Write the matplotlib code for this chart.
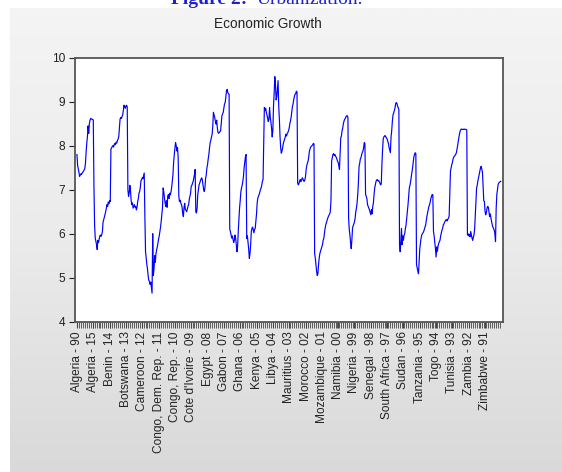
import numpy as np
import matplotlib.pyplot as plt
from matplotlib.colors import LinearSegmentedColormap

plt.rcParams['font.family'] = ['Liberation Sans', 'DejaVu Sans']

# log real GDP per capita, 1990-2015, one list per country
algeria = [7.80, 7.55, 7.48, 7.40, 7.30, 7.33, 7.36, 7.35, 7.38, 7.40, 7.42, 7.45, 7.48,
           7.60, 7.85, 8.05, 8.20, 8.45, 8.28, 8.50, 8.58, 8.62, 8.61, 8.60, 8.60, 8.58]
benin = [7.10, 6.20, 5.90, 5.82, 5.75, 5.64, 5.85, 5.80, 5.88, 5.95, 5.97, 5.94, 5.98,
         6.05, 6.27, 6.32, 6.38, 6.43, 6.50, 6.58, 6.66, 6.62, 6.72, 6.68, 6.75, 6.73]
botswana = [7.92, 7.95, 7.98, 8.00, 7.97, 8.02, 8.05, 8.03, 8.08, 8.06, 8.12, 8.15, 8.20,
            8.40, 8.60, 8.64, 8.62, 8.66, 8.70, 8.80, 8.92, 8.88, 8.85, 8.90, 8.92, 8.88]
cameroon = [7.00, 6.85, 6.92, 7.10, 6.98, 6.75, 6.66, 6.70, 6.58, 6.62, 6.66, 6.60, 6.62,
            6.54, 6.60, 6.73, 6.80, 6.92, 6.96, 7.05, 7.20, 7.23, 7.27, 7.25, 7.32, 7.38]
congo_dr = [6.40, 5.60, 5.45, 5.30, 5.20, 5.05, 4.94, 4.92, 4.85, 4.90, 4.78, 4.65, 6.00,
            5.05, 5.20, 5.50, 5.35, 5.55, 5.62, 5.70, 5.78, 5.88, 5.95, 6.05, 6.15, 6.28]
congo_rep = [6.45, 6.60, 7.04, 6.95, 6.81, 6.70, 6.62, 6.75, 6.60, 6.85, 6.89, 6.80, 6.92,
             6.88, 6.95, 7.05, 7.20, 7.34, 7.62, 7.80, 7.95, 8.07, 8.00, 7.88, 7.96, 7.73]
cote_divoire = [6.85, 6.73, 6.76, 6.70, 6.66, 6.60, 6.45, 6.39, 6.60, 6.69, 6.55, 6.53, 6.50,
                6.56, 6.62, 6.66, 6.78, 6.85, 6.92, 7.08, 7.10, 7.15, 7.19, 7.27, 7.35, 7.46]
egypt = [6.50, 6.47, 6.58, 6.89, 7.00, 7.11, 7.15, 7.20, 7.24, 7.27, 7.22, 7.10, 7.00,
         6.96, 7.05, 7.25, 7.34, 7.50, 7.57, 7.70, 7.80, 7.95, 8.07, 8.12, 8.20, 8.26]
gabon = [8.45, 8.76, 8.70, 8.64, 8.55, 8.49, 8.58, 8.40, 8.30, 8.28, 8.30, 8.32, 8.34,
         8.50, 8.68, 8.72, 8.76, 8.85, 8.95, 8.98, 9.10, 9.25, 9.28, 9.21, 9.18, 9.17]
ghana = [6.10, 6.05, 5.97, 5.90, 5.95, 5.88, 5.80, 5.85, 5.97, 5.90, 5.75, 5.59, 5.70,
         6.05, 6.30, 6.58, 6.75, 6.95, 7.04, 7.10, 7.19, 7.30, 7.50, 7.62, 7.75, 7.80]
kenya = [5.89, 5.95, 5.80, 5.65, 5.44, 5.55, 5.75, 6.05, 6.12, 6.15, 6.08, 6.02, 6.10,
         6.12, 6.30, 6.45, 6.70, 6.81, 6.85, 6.89, 6.95, 7.00, 7.04, 7.10, 7.19, 7.23]
libya = [8.05, 8.87, 8.80, 8.85, 8.76, 8.70, 8.62, 8.55, 8.60, 8.87, 8.65, 8.54, 8.40,
         8.20, 8.35, 8.90, 9.20, 9.57, 9.40, 9.04, 9.10, 9.30, 9.48, 8.90, 8.60, 8.20]
mauritius = [7.95, 7.83, 7.88, 7.95, 8.05, 8.10, 8.15, 8.20, 8.26, 8.22, 8.28, 8.30, 8.34,
             8.40, 8.50, 8.56, 8.65, 8.78, 8.89, 8.95, 9.05, 9.12, 9.17, 9.18, 9.24, 9.22]
morocco = [7.15, 7.11, 7.14, 7.20, 7.23, 7.18, 7.22, 7.27, 7.25, 7.20, 7.19, 7.22, 7.30,
           7.46, 7.55, 7.61, 7.65, 7.75, 7.88, 7.93, 7.97, 7.99, 8.00, 8.02, 8.05, 8.04]
mozambique = [5.55, 5.45, 5.30, 5.15, 5.05, 5.09, 5.30, 5.45, 5.55, 5.60, 5.65, 5.70, 5.75,
              5.85, 5.89, 6.00, 6.12, 6.20, 6.25, 6.30, 6.35, 6.39, 6.42, 6.45, 6.50, 6.75]
namibia = [7.65, 7.72, 7.80, 7.82, 7.78, 7.80, 7.76, 7.74, 7.70, 7.65, 7.62, 7.55, 7.46,
           7.80, 8.18, 8.22, 8.34, 8.40, 8.50, 8.56, 8.60, 8.62, 8.66, 8.68, 8.68, 8.64]
nigeria = [6.35, 6.10, 5.97, 5.80, 5.66, 5.85, 6.12, 6.18, 6.22, 6.27, 6.35, 6.50, 6.58,
           6.70, 6.89, 7.15, 7.53, 7.60, 7.70, 7.73, 7.80, 7.85, 7.88, 7.95, 8.07, 8.05]
senegal = [6.89, 6.85, 6.80, 6.66, 6.62, 6.58, 6.54, 6.48, 6.43, 6.55, 6.45, 6.62, 6.70,
           6.89, 7.04, 7.12, 7.19, 7.22, 7.23, 7.20, 7.21, 7.18, 7.15, 7.11, 7.13, 7.57]
south_africa = [7.90, 8.15, 8.20, 8.22, 8.23, 8.20, 8.18, 8.15, 8.10, 8.05, 7.96, 7.90, 7.84,
                8.20, 8.34, 8.55, 8.70, 8.74, 8.80, 8.85, 8.95, 8.98, 8.96, 8.90, 8.86, 8.82]
sudan = [5.75, 5.59, 5.82, 6.12, 5.75, 5.95, 5.85, 5.97, 6.00, 6.12, 6.20, 6.35, 6.50,
         6.66, 6.85, 7.04, 7.10, 7.19, 7.30, 7.40, 7.50, 7.62, 7.75, 7.80, 7.84, 7.82]
tanzania = [5.30, 5.22, 5.15, 5.09, 5.35, 5.66, 5.78, 5.90, 5.97, 6.00, 6.02, 6.05, 6.10,
            6.15, 6.20, 6.30, 6.40, 6.48, 6.55, 6.62, 6.66, 6.72, 6.80, 6.85, 6.89, 6.88]
togo = [6.05, 5.95, 5.80, 5.66, 5.47, 5.70, 5.60, 5.72, 5.78, 5.82, 5.85, 5.95, 6.02,
        6.08, 6.12, 6.20, 6.22, 6.26, 6.29, 6.31, 6.32, 6.29, 6.33, 6.35, 6.40, 6.89]
tunisia = [7.42, 7.50, 7.57, 7.62, 7.70, 7.74, 7.76, 7.78, 7.80, 7.84, 7.92, 8.00, 8.11,
           8.20, 8.28, 8.34, 8.37, 8.38, 8.37, 8.37, 8.37, 8.38, 8.37, 8.37, 8.37, 8.36]
zambia = [5.97, 6.00, 5.95, 5.98, 5.93, 6.05, 5.97, 5.90, 5.85, 5.92, 5.97, 6.10, 6.43,
          6.80, 7.04, 7.10, 7.20, 7.27, 7.35, 7.42, 7.50, 7.53, 7.46, 7.40, 7.10, 6.75]
zimbabwe = [6.73, 6.50, 6.43, 6.48, 6.58, 6.62, 6.60, 6.50, 6.39, 6.45, 6.35, 6.27, 6.20,
            6.15, 6.12, 6.08, 6.00, 5.82, 6.58, 6.89, 7.00, 7.12, 7.15, 7.17, 7.18, 7.19]

tick_labels = ['Algeria - 90', 'Algeria - 15', 'Benin - 14', 'Botswana - 13',
               'Cameroon - 12', 'Congo, Dem. Rep. - 11', 'Congo, Rep. - 10',
               "Cote d'Ivoire - 09", 'Egypt - 08', 'Gabon - 07', 'Ghana - 06',
               'Kenya - 05', 'Libya - 04', 'Mauritius - 03', 'Morocco - 02',
               'Mozambique - 01', 'Namibia - 00', 'Nigeria - 99', 'Senegal - 98',
               'South Africa - 97', 'Sudan - 96', 'Tanzania - 95', 'Togo - 94',
               'Tunisia - 93', 'Zambia - 92', 'Zimbabwe - 91']

series = np.concatenate([algeria, benin, botswana, cameroon, congo_dr, congo_rep,
                         cote_divoire, egypt, gabon, ghana, kenya, libya, mauritius,
                         morocco, mozambique, namibia, nigeria, senegal, south_africa,
                         sudan, tanzania, togo, tunisia, zambia, zimbabwe])
obs = np.arange(len(series))

W, H = 562, 472
fig = plt.figure(figsize=(W / 100, H / 100), dpi=100)
fig.patch.set_facecolor('white')

# caption line of the document, mostly hidden behind the graph panel
fig.text(171 / W, 1 - 4 / H, 'Figure 2:', family='Liberation Serif', fontweight='bold',
         fontsize=14, color='#1f1fcf', ha='left', va='baseline', zorder=1)
fig.text(257 / W, 1 - 4 / H, 'Urbanization.', family='Liberation Serif',
         fontsize=14, color='#1f1fcf', ha='left', va='baseline', zorder=1)

# grey graph panel with a soft vertical gradient
bg = fig.add_axes([10 / W, 0, (W - 10) / W, (H - 8) / H], zorder=2)
panel_cmap = LinearSegmentedColormap.from_list('panel', ['#f4f4f4', '#ebebeb', '#d9d9d9'])
bg.imshow(np.linspace(0, 1, 256)[:, None], aspect='auto', cmap=panel_cmap,
          extent=[0, 1, 0, 1], origin='upper')
bg.axis('off')

ax = fig.add_axes([75 / W, 1 - 321.7 / H, 427.7 / W, 264 / H], zorder=3)
ax.set_facecolor('white')
ax.plot(obs, series, color='#0000ff', lw=0.85)

ax.set_xlim(-3, 652)
ax.set_ylim(4, 10)
ax.set_yticks(range(4, 11))
ax.set_xticks(obs[::25])
ax.set_xticklabels(tick_labels, rotation=90)
ax.set_xticks(np.arange(0, len(series), 3), minor=True)

for side in ['left', 'right', 'top', 'bottom']:
    ax.spines[side].set_color('#555555')
    ax.spines[side].set_linewidth(1.3)

ax.tick_params(axis='both', which='major', labelsize=8.6, colors='#222222',
               length=4.5, width=0.8, pad=2.5)
ax.tick_params(axis='x', which='minor', length=4, width=0.6, color='#444444')
ax.tick_params(axis='x', which='major', color='#444444')

fig.text(268 / W, 1 - 24 / H, 'Economic Growth', ha='center', va='center',
         fontsize=9.8, color='#222222', zorder=4)

fig.savefig('out.png', dpi=100)
